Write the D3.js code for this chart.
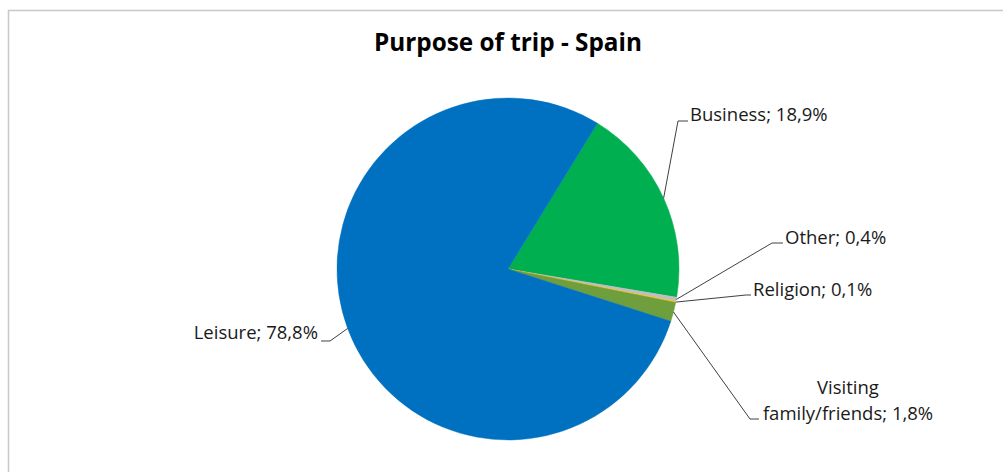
<!DOCTYPE html>
<html>
<head>
<meta charset="utf-8">
<script src="https://cdn.jsdelivr.net/npm/d3@7"></script>
<style>
  html, body { margin: 0; padding: 0; background: #ffffff; }
  svg { display: block; }
</style>
</head>
<body>
<svg id="chart" width="1003" height="472"></svg>
<script>
const title = "Purpose of trip - Spain";
const categories = ["Business", "Other", "Religion", "Visiting family/friends", "Leisure"];
const values = [18.9, 0.4, 0.1, 1.8, 78.8];
const colors = ["#00b050", "#bfbfbf", "#ffc000", "#6f9e3d", "#0070c0"];
const labelLines = [
  ["Business; 18,9%"],
  ["Other; 0,4%"],
  ["Religion; 0,1%"],
  ["Visiting", "family/friends; 1,8%"],
  ["Leisure; 78,8%"]
];

const W = 1003, H = 472;
const cx = 508, cy = 269, R = 171;
const svg = d3.select("#chart");
const font = "'Open Sans', 'Noto Sans', sans-serif";

// frame (top and left border)
svg.append("path")
  .attr("d", `M8.5,${H} L8.5,10.5 L${W},10.5`)
  .attr("fill", "none").attr("stroke", "#c8c8c8").attr("stroke-width", 1.5);

svg.append("text")
  .attr("x", 508).attr("y", 51)
  .attr("text-anchor", "middle")
  .attr("font-family", font).attr("font-weight", "bold")
  .attr("font-size", 24.3).attr("fill", "#000")
  .text(title);

const data = categories.map((c, i) => ({ cat: c, value: values[i], color: colors[i], lines: labelLines[i] }));
const start = 31.5 * Math.PI / 180;
const pie = d3.pie().value(d => d.value).sort(null).startAngle(start).endAngle(start + 2 * Math.PI);
const arcs = pie(data);
const arc = d3.arc().innerRadius(0).outerRadius(R);

const g = svg.append("g").attr("transform", `translate(${cx},${cy})`);
g.selectAll("path.slice").data(arcs).enter().append("path")
  .attr("class", "slice")
  .attr("d", arc)
  .attr("fill", d => d.data.color)
  .attr("stroke", d => d.data.color).attr("stroke-width", 0.5);

// label layout (position of text start / anchor, in page coords)
const labelPos = [
  { x: 690, y: 121, anchor: "start", hook: [678, 121], hx: 688 },
  { x: 785, y: 244, anchor: "start", hook: [772, 243], hx: 783 },
  { x: 753, y: 296, anchor: "start", hook: [746, 295], hx: 751 },
  { x: 848, y: 394, anchor: "middle", hook: [750, 419], hx: 759, dy: 25.5 },
  { x: 318, y: 339, anchor: "end", hook: [330, 341], hx: 321 }
];

const rimArc = d3.arc().innerRadius(R).outerRadius(R);
arcs.forEach((a, i) => {
  const lp = labelPos[i];
  const c = rimArc.centroid(a);
  const px = cx + c[0], py = cy + c[1];
  const path = d3.path();
  path.moveTo(lp.hx, lp.hook[1]);
  path.lineTo(lp.hook[0], lp.hook[1]);
  path.lineTo(px, py);
  svg.append("path").attr("d", path.toString())
    .attr("fill", "none").attr("stroke", "#404040").attr("stroke-width", 1);

  const t = svg.append("text")
    .attr("font-family", font).attr("font-size", 18.5).attr("fill", "#1a1a1a")
    .attr("text-anchor", lp.anchor);
  a.data.lines.forEach((ln, j) => {
    t.append("tspan").attr("x", lp.x).attr("y", lp.y + j * (lp.dy || 0)).text(ln);
  });
});
</script>
</body>
</html>
